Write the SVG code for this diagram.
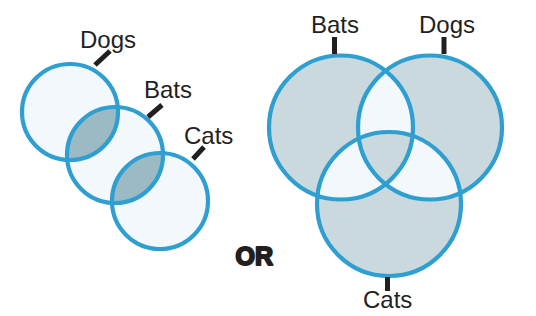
<svg xmlns="http://www.w3.org/2000/svg" width="536" height="316" viewBox="0 0 536 316">
<style>
.lbl{font-family:"Liberation Sans",Arial,sans-serif;font-size:24px;fill:#231f20}
.ring{fill:none;stroke:#2e9fd0;stroke-width:4.2}
.light{fill:#f2f8fb}
.tick{stroke:#231f20;stroke-width:5;stroke-linecap:butt}
</style>
<defs>
<clipPath id="clipBatsL"><circle cx="115" cy="155" r="48"/></clipPath>
</defs>
<rect width="536" height="316" fill="#ffffff"/>
<g id="left-venn">
<circle class="light" cx="70" cy="112" r="48"/>
<circle class="light" cx="115" cy="155" r="48"/>
<circle class="light" cx="160" cy="201" r="48"/>
<g clip-path="url(#clipBatsL)" fill="#9bbac4">
<circle cx="70" cy="112" r="48"/>
<circle cx="160" cy="201" r="48"/>
</g>
<g id="dogs-left"><circle class="ring" cx="70" cy="112" r="48"/><line class="tick" x1="95" y1="65" x2="110" y2="51"/><text class="lbl" x="80" y="48">Dogs</text></g>
<g id="bats-left"><circle class="ring" cx="115" cy="155" r="48"/><line class="tick" x1="148" y1="117" x2="162" y2="105"/><text class="lbl" x="144" y="98">Bats</text></g>
<g id="cats-left"><circle class="ring" cx="160" cy="201" r="48"/><line class="tick" x1="193" y1="159" x2="204" y2="147"/><text class="lbl" x="184" y="144">Cats</text></g>
</g>
<g id="or"><text x="235.5" y="265" style="font-family:'Liberation Sans',Arial,sans-serif;font-size:25px;font-weight:bold;fill:#231f20;stroke:#231f20;stroke-width:2;stroke-linejoin:round">OR</text></g>
<g id="right-venn">
<circle class="light" cx="341" cy="127.5" r="72"/>
<circle class="light" cx="430" cy="127.5" r="72"/>
<circle class="light" cx="389" cy="204" r="72"/>
<path fill="#c9d9de" fill-rule="evenodd" d="M269,127.5a72,72 0 1,0 144,0a72,72 0 1,0 -144,0Z M358,127.5a72,72 0 1,0 144,0a72,72 0 1,0 -144,0Z M317,204a72,72 0 1,0 144,0a72,72 0 1,0 -144,0Z"/>
<g id="bats-right"><circle class="ring" cx="341" cy="127.5" r="72"/><line class="tick" x1="334.5" y1="37" x2="334.5" y2="54"/><text class="lbl" x="311" y="33">Bats</text></g>
<g id="dogs-right"><circle class="ring" cx="430" cy="127.5" r="72"/><line class="tick" x1="444" y1="37" x2="444" y2="54"/><text class="lbl" x="419" y="33">Dogs</text></g>
<g id="cats-right"><circle class="ring" cx="389" cy="204" r="72"/><line class="tick" x1="387.5" y1="277" x2="387.5" y2="291"/><text class="lbl" x="363" y="308">Cats</text></g>
</g>
</svg>
